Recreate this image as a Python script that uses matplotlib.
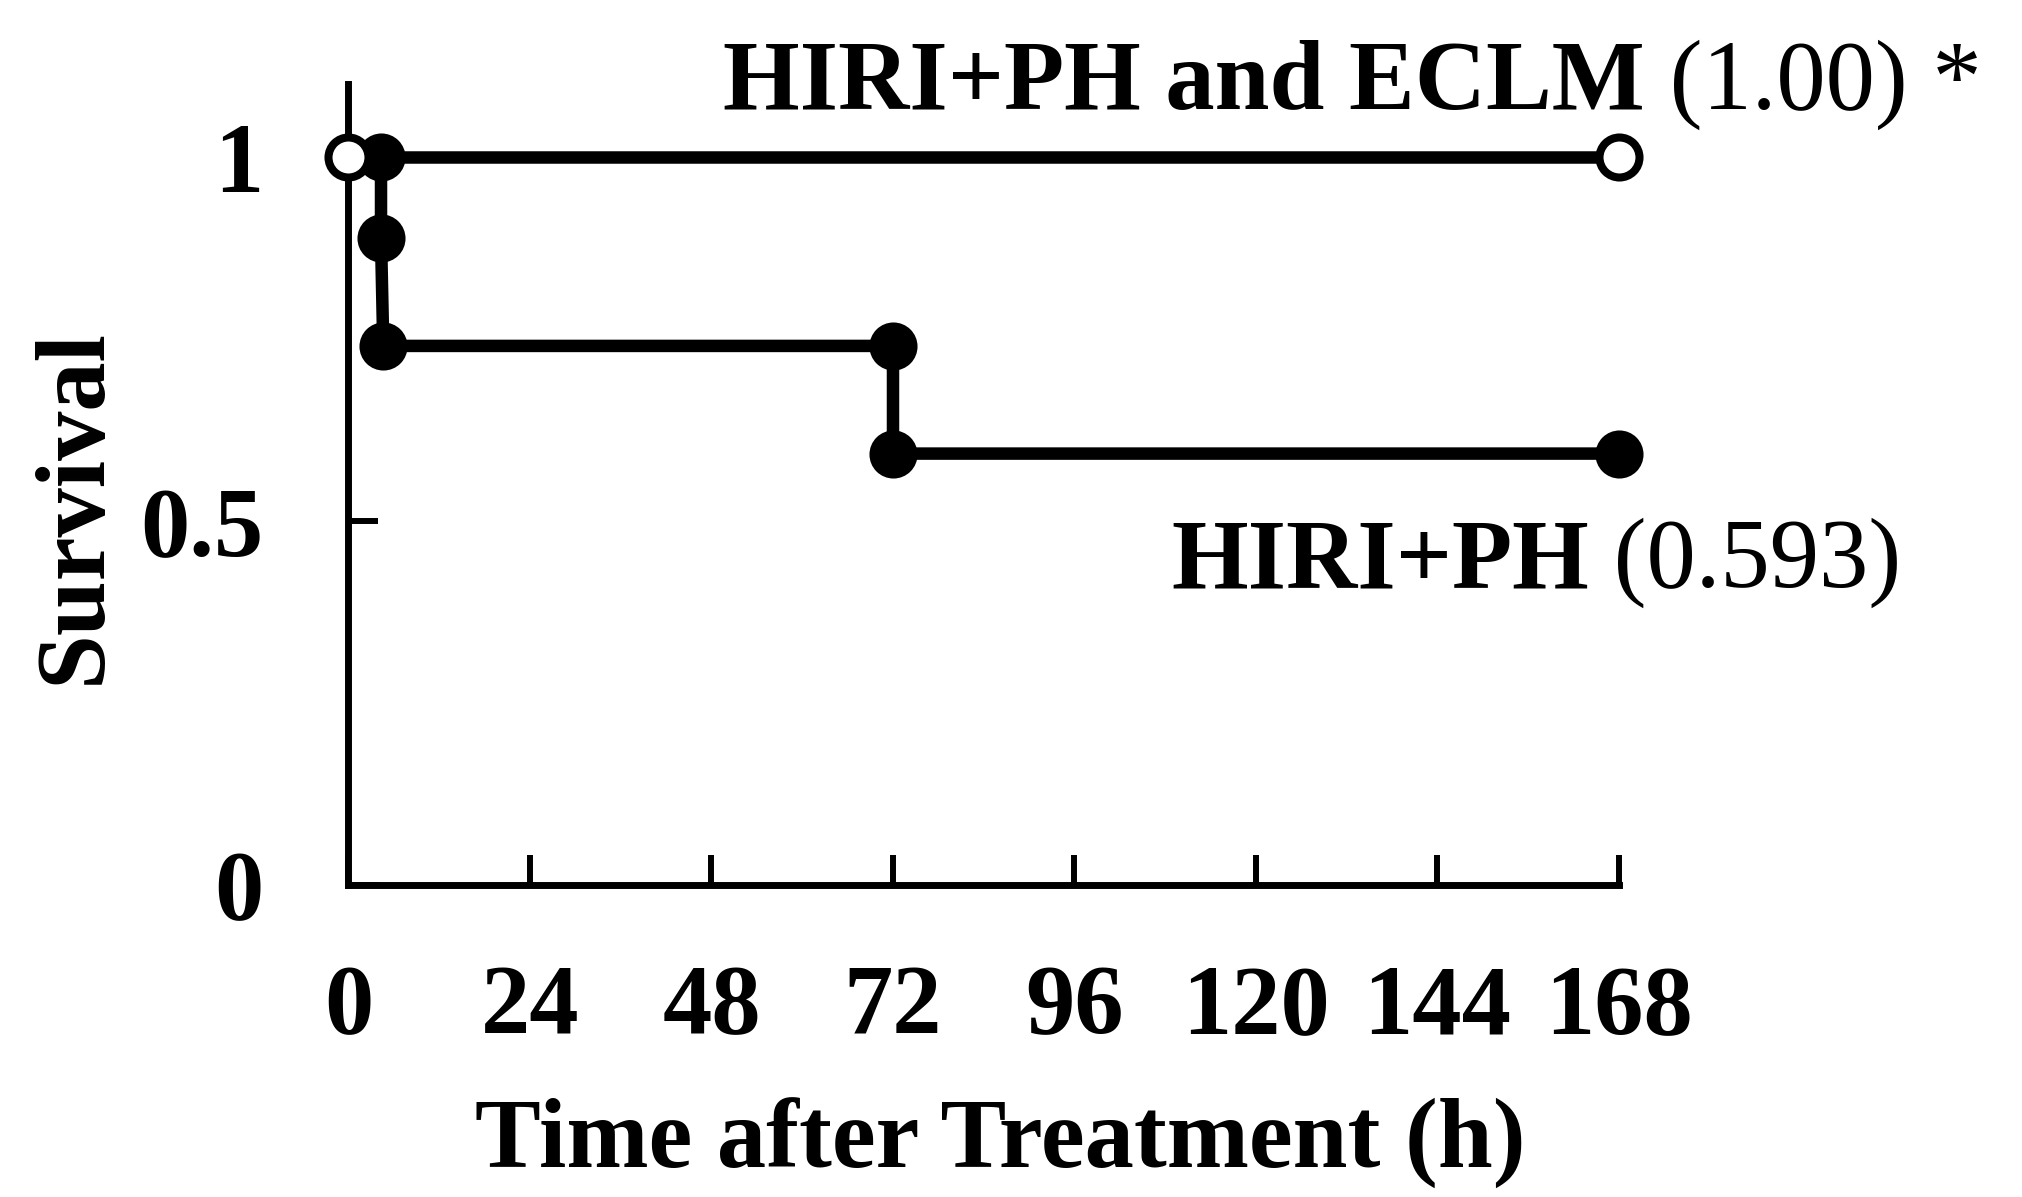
import matplotlib

matplotlib.use("Agg")
import matplotlib.pyplot as plt

# Kaplan-Meier style survival after treatment (hours)
eclm_time = [0, 168]
eclm_surv = [1.0, 1.0]

ph_time = [4.3, 4.3, 4.6, 72, 72, 168]
ph_surv = [1.0, 0.889, 0.741, 0.741, 0.593, 0.593]

x_ticks = [0, 24, 48, 72, 96, 120, 144, 168]
y_ticks = [0, 0.5, 1]
y_ticklabels = ["0", "0.5", "1"]

eclm_name = "HIRI+PH and ECLM"
eclm_value = " (1.00) *"
ph_name = "HIRI+PH"
ph_value = " (0.593)"

x_title = "Time after Treatment (h)"
y_title = "Survival"

FONT = "Liberation Serif"
FS = 71


def main():
    plt.rcParams["font.family"] = [FONT, "DejaVu Serif"]

    fig = plt.figure(figsize=(20.22, 11.97), dpi=100)
    ax = fig.add_axes([0.17235, 0.26065, 0.62834, 0.66917])

    line_kw = dict(color="black", linewidth=9, marker="o", markersize=28.8,
                   markeredgewidth=5.8, markeredgecolor="black", clip_on=False)
    ax.plot(ph_time, ph_surv, markerfacecolor="black", zorder=3, **line_kw)
    ax.plot(eclm_time, eclm_surv, markerfacecolor="white", zorder=4, **line_kw)

    ax.set_xlim(0, 168)
    ax.set_ylim(0, 1.101)

    for side in ("top", "right"):
        ax.spines[side].set_visible(False)
    for side in ("left", "bottom"):
        ax.spines[side].set_linewidth(5)
        ax.spines[side].set_capstyle("projecting")

    ax.set_xticks(x_ticks)
    ax.set_xticklabels([str(t) for t in x_ticks])
    ax.set_yticks(y_ticks)
    ax.set_yticklabels(y_ticklabels)
    ax.tick_params(axis="both", direction="in", length=21.6, width=4.3,
                   labelsize=FS)
    ax.tick_params(axis="x", pad=57)
    ax.tick_params(axis="y", pad=61.5)
    for lab in ax.get_xticklabels() + ax.get_yticklabels():
        lab.set_fontweight("bold")

    ax.set_xlabel(x_title, fontsize=FS, fontweight="bold")
    ax.xaxis.set_label_coords(0.5128, -0.266)
    ax.set_ylabel(y_title, fontsize=FS, fontweight="bold")
    ax.yaxis.set_label_coords(-0.179, 0.4732)

    # group labels: bold name followed by the final survival in regular weight
    t1 = ax.text(49.5, 1.0667, eclm_name, fontsize=FS, fontweight="bold",
                 ha="left", va="baseline")
    ax.annotate(eclm_value, xy=(1, 0), xycoords=t1, fontsize=FS,
                ha="left", va="bottom")
    t2 = ax.text(108.8, 0.4096, ph_name, fontsize=FS, fontweight="bold",
                 ha="left", va="baseline")
    ax.annotate(ph_value, xy=(1, 0), xycoords=t2, fontsize=FS,
                ha="left", va="bottom")

    fig.savefig("out.png", dpi=100)


if __name__ == "__main__":
    main()
